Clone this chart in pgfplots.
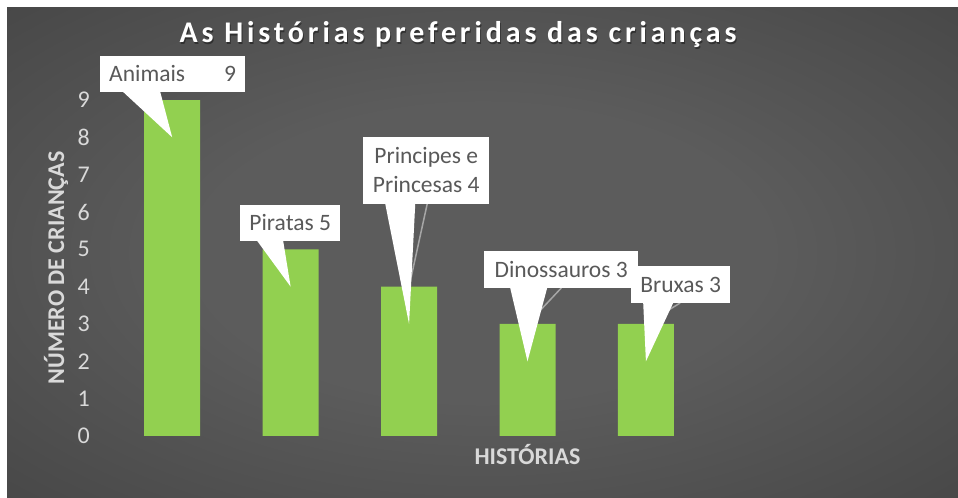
\documentclass[border=0pt]{standalone}
\usepackage{fontspec}
\setmainfont{Carlito}
\newfontfamily\titlefont[LetterSpace=13]{Carlito}
\usepackage{pgfplots}
\pgfplotsset{compat=1.18}
\definecolor{barg}{HTML}{92D050}
\definecolor{lbl}{HTML}{595959}
\definecolor{axt}{HTML}{D9D9D9}
\definecolor{lead}{HTML}{A6A6A6}
\definecolor{bgin}{HTML}{5C5C5C}
\definecolor{bgmid}{HTML}{3A3A3A}
\definecolor{bgout}{HTML}{262626}
\pgfdeclareradialshading{bgshade}{\pgfpoint{0bp}{0bp}}{color(0bp)=(bgin); color(15bp)=(bgin); color(50bp)=(bgmid); color(72bp)=(bgout)}
\begin{document}
\begin{tikzpicture}
\fill[white] (0bp,0bp) rectangle (958bp,498bp);
\shade[shading=bgshade] (7bp,0bp) rectangle (958bp,490bp);
\node[anchor=base, text=black, opacity=0.4, font=\titlefont\bfseries\fontsize{30bp}{30bp}\selectfont] at (459bp,453.5bp) {As Histórias preferidas das crianças};
\node[anchor=base, text=white, font=\titlefont\bfseries\fontsize{30bp}{30bp}\selectfont] at (458bp,455bp) {As Histórias preferidas das crianças};
\begin{axis}[
  at={(113bp,62bp)}, anchor=south west,
  scale only axis, width=829bp, height=336bp,
  xmin=-0.5, xmax=6.5, ymin=0, ymax=9,
  clip=false,
  axis line style={draw=none},
  major tick length=0pt,
  xtick=\empty,
  ytick={0,1,2,3,4,5,6,7,8,9},
  /pgf/number format/assume math mode=true,
  yticklabel style={anchor=east, inner sep=0pt, xshift=-23bp, text=axt, font=\fontsize{24bp}{24bp}\selectfont},
  xlabel={HISTÓRIAS},
  ylabel={NÚMERO DE CRIANÇAS},
  x label style={at={(axis description cs:0.5,0)}, anchor=center, yshift=-19bp, text=axt, font=\bfseries\fontsize{24bp}{24bp}\selectfont},
  y label style={at={(axis description cs:0,0.5)}, anchor=center, yshift=57bp, text=axt, font=\bfseries\fontsize{24bp}{24bp}\selectfont},
]
\addplot[ybar, bar width=56bp, fill=barg, draw=none] coordinates {(0,9) (1,5) (2,4) (3,3) (4,3)};
% leader lines
\draw[lead, line width=1.5bp] (axis cs:2.153,6.214) -- (axis cs:2,4);
\draw[lead, line width=1.5bp] (axis cs:3.285,3.964) -- (axis cs:3,3);
\draw[lead, line width=1.5bp] (axis cs:4.289,3.563) -- (axis cs:4,3);
% callout 1
\fill[white] (axis cs:-0.414,9.214) -- (axis cs:0,8) -- (axis cs:-0.101,9.214) -- cycle;
\fill[white] (axis cs:-0.608,9.214) rectangle (axis cs:0.616,10.179);
\node[text=lbl, inner sep=0pt, font=\fontsize{23.5bp}{29bp}\selectfont] at (axis cs:0.004,9.697) {\makebox[127bp]{Animais\hfill 9}};
% callout 2
\fill[white] (axis cs:0.718,5.223) -- (axis cs:1,4) -- (axis cs:0.937,5.223) -- cycle;
\fill[white] (axis cs:0.574,5.223) rectangle (axis cs:1.419,6.188);
\node[text=lbl, inner sep=0pt, font=\fontsize{23.5bp}{29bp}\selectfont] at (axis cs:0.9965,5.706) {Piratas 5};
% callout 3
\fill[white] (axis cs:1.799,6.214) -- (axis cs:2,3) -- (axis cs:2.052,6.214) -- cycle;
\fill[white] (axis cs:1.613,6.214) rectangle (axis cs:2.677,8.009);
\node[text=lbl, inner sep=0pt, align=center, font=\fontsize{23.5bp}{29bp}\selectfont] at (axis cs:2.145,7.112) {Principes e\\Princesas 4};
% callout 4
\fill[white] (axis cs:2.854,3.964) -- (axis cs:3,2) -- (axis cs:3.166,3.964) -- cycle;
\fill[white] (axis cs:2.634,3.964) rectangle (axis cs:3.935,4.955);
\node[text=lbl, inner sep=0pt, font=\fontsize{23.5bp}{29bp}\selectfont] at (axis cs:3.2845,4.46) {Dinossauros 3};
% callout 5
\fill[white] (axis cs:3.977,3.563) -- (axis cs:4,2) -- (axis cs:4.230,3.563) -- cycle;
\fill[white] (axis cs:3.876,3.563) rectangle (axis cs:4.712,4.554);
\node[text=lbl, inner sep=0pt, font=\fontsize{23.5bp}{29bp}\selectfont] at (axis cs:4.294,4.059) {Bruxas 3};
\end{axis}
\end{tikzpicture}
\end{document}
